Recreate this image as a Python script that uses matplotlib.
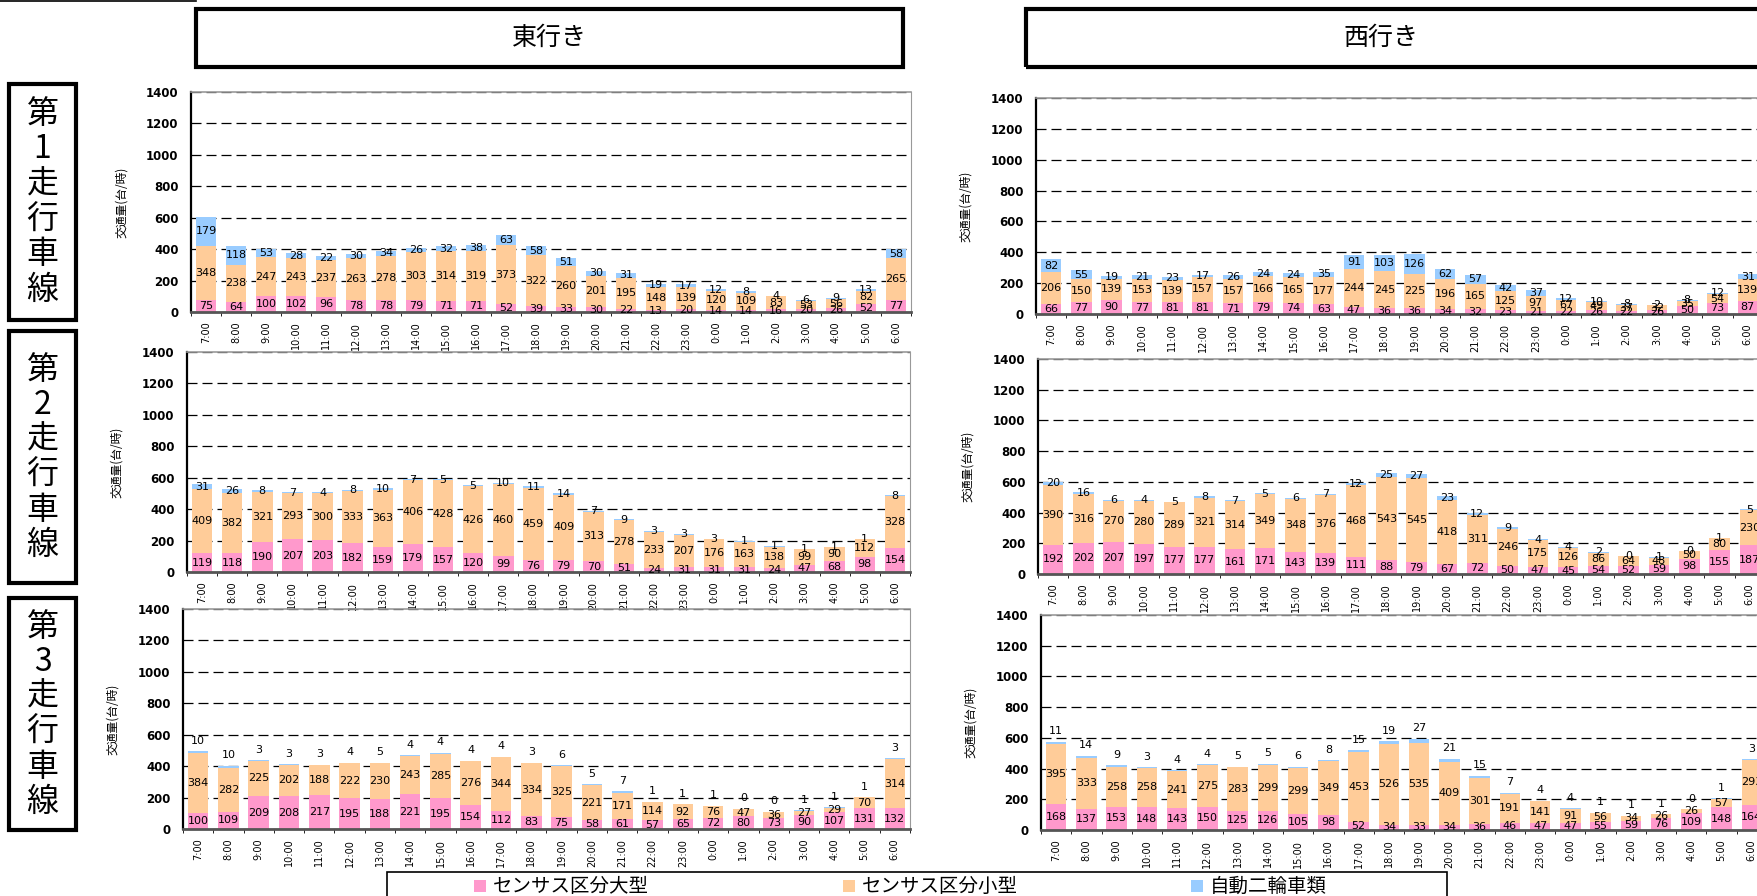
import matplotlib
matplotlib.use("Agg")
import matplotlib.pyplot as plt
from matplotlib.patches import Rectangle
from matplotlib.lines import Line2D
import numpy as np

plt.rcParams['font.family'] = ['Noto Sans CJK JP', 'DejaVu Sans']

hours = ['7:00', '8:00', '9:00', '10:00', '11:00', '12:00', '13:00', '14:00',
         '15:00', '16:00', '17:00', '18:00', '19:00', '20:00', '21:00', '22:00',
         '23:00', '0:00', '1:00', '2:00', '3:00', '4:00', '5:00', '6:00']

series_names = ['センサス区分大型', 'センサス区分小型', '自動二輪車類']

# 東行き 第1走行車線
e1_large = [75, 64, 100, 102, 96, 78, 78, 79, 71, 71, 52, 39, 33, 30, 22, 13, 20, 14, 14, 16, 20, 26, 52, 77]
e1_small = [348, 238, 247, 243, 237, 263, 278, 303, 314, 319, 373, 322, 260, 201, 195, 148, 139, 120, 109, 83, 53, 56, 82, 265]
e1_moto = [179, 118, 53, 28, 22, 30, 34, 26, 32, 38, 63, 58, 51, 30, 31, 19, 17, 12, 8, 4, 6, 9, 13, 58]

# 西行き 第1走行車線
w1_large = [66, 77, 90, 77, 81, 81, 71, 79, 74, 63, 47, 36, 36, 34, 32, 23, 21, 22, 26, 22, 26, 50, 73, 87]
w1_small = [206, 150, 139, 153, 139, 157, 157, 166, 165, 177, 244, 245, 225, 196, 165, 125, 97, 67, 49, 37, 32, 35, 54, 139]
w1_moto = [82, 55, 19, 21, 23, 17, 26, 24, 24, 35, 91, 103, 126, 62, 57, 42, 37, 12, 10, 8, 2, 8, 12, 31]

# 東行き 第2走行車線
e2_large = [119, 118, 190, 207, 203, 182, 159, 179, 157, 120, 99, 76, 79, 70, 51, 24, 31, 31, 31, 24, 47, 68, 98, 154]
e2_small = [409, 382, 321, 293, 300, 333, 363, 406, 428, 426, 460, 459, 409, 313, 278, 233, 207, 176, 163, 138, 99, 90, 112, 328]
e2_moto = [31, 26, 8, 7, 4, 8, 10, 7, 5, 5, 10, 11, 14, 7, 9, 3, 3, 3, 1, 1, 1, 1, 1, 8]

# 西行き 第2走行車線
w2_large = [192, 202, 207, 197, 177, 177, 161, 171, 143, 139, 111, 88, 79, 67, 72, 50, 47, 45, 54, 52, 59, 98, 155, 187]
w2_small = [390, 316, 270, 280, 289, 321, 314, 349, 348, 376, 468, 543, 545, 418, 311, 246, 175, 126, 86, 64, 48, 50, 80, 230]
w2_moto = [20, 16, 6, 4, 5, 8, 7, 5, 6, 7, 12, 25, 27, 23, 12, 9, 4, 4, 2, 0, 1, 0, 1, 5]

# 東行き 第3走行車線
e3_large = [100, 109, 209, 208, 217, 195, 188, 221, 195, 154, 112, 83, 75, 58, 61, 57, 65, 72, 80, 73, 90, 107, 131, 132]
e3_small = [384, 282, 225, 202, 188, 222, 230, 243, 285, 276, 344, 334, 325, 221, 171, 114, 92, 76, 47, 36, 27, 29, 70, 314]
e3_moto = [10, 10, 3, 3, 3, 4, 5, 4, 4, 4, 4, 3, 6, 5, 7, 1, 1, 1, 0, 0, 1, 1, 1, 3]

# 西行き 第3走行車線
w3_large = [168, 137, 153, 148, 143, 150, 125, 126, 105, 98, 52, 34, 33, 34, 36, 46, 47, 47, 55, 59, 76, 109, 148, 164]
w3_small = [395, 333, 258, 258, 241, 275, 283, 299, 299, 349, 453, 526, 535, 409, 301, 191, 141, 91, 56, 34, 26, 26, 57, 293]
w3_moto = [11, 14, 9, 3, 4, 4, 5, 5, 6, 8, 15, 19, 27, 21, 15, 7, 4, 4, 1, 1, 1, 0, 1, 3]

PINK = '#FF99CC'
ORANGE = '#FFCC99'
BLUE = '#99CCFF'

W, H = 1758, 896
NUM_FONT = dict(fontsize=8, family='DejaVu Sans')


def px(x0, y0, x1, y1):
    # pixel box (left, top, right, bottom) -> figure fraction rect
    return [x0 / W, 1 - y1 / H, (x1 - x0) / W, (y1 - y0) / H]


def draw_panel(fig, box, large, small, moto, moto_above=False):
    ax = fig.add_axes(px(*box))
    ax.set_facecolor('none')
    x = np.arange(len(hours))
    large = np.array(large)
    small = np.array(small)
    moto = np.array(moto)
    b1 = ax.bar(x, large, width=0.68, color=PINK, zorder=2)
    b2 = ax.bar(x, small, bottom=large, width=0.68, color=ORANGE, zorder=2)
    b3 = ax.bar(x, moto, bottom=large + small, width=0.68, color=BLUE, zorder=2)
    ax.bar_label(b1, labels=[str(v) for v in large], label_type='center', zorder=3, **NUM_FONT)
    ax.bar_label(b2, labels=[str(v) for v in small], label_type='center', zorder=3, **NUM_FONT)
    moto_labels = [str(v) for v in moto]
    if moto_above:
        ax.bar_label(b3, labels=moto_labels, label_type='edge', padding=4, zorder=3, **NUM_FONT)
    else:
        ax.bar_label(b3, labels=moto_labels, label_type='center', zorder=3, **NUM_FONT)

    ax.set_xlim(-0.5, len(hours) - 0.5)
    ax.set_ylim(0, 1400)
    ax.set_yticks(range(0, 1401, 200))
    ax.set_axisbelow(True)
    ax.yaxis.grid(True, linestyle=(0, (8, 4)), color='black', linewidth=0.9)
    ax.set_xticks(x)
    ax.set_xticklabels(hours, rotation=90, fontsize=7, family='DejaVu Sans')
    ax.set_xticks(np.arange(-0.5, len(hours), 1), minor=True)
    ax.tick_params(axis='x', which='major', length=0, pad=7)
    ax.tick_params(axis='x', which='minor', length=3, color='black')
    ax.tick_params(axis='y', length=0, pad=9)
    for lab in ax.get_yticklabels():
        lab.set_fontweight('bold')
        lab.set_fontsize(8.5)
        lab.set_family('DejaVu Sans')
    ax.set_ylabel('交通量(台/時)', fontsize=8.5)
    ax.yaxis.set_label_coords(-0.088, 0.5)
    ax.spines['left'].set_linewidth(1.6)
    ax.spines['left'].set_color('black')
    ax.spines['bottom'].set_linewidth(2)
    ax.spines['bottom'].set_color('#555555')
    ax.spines['top'].set_color('#999999')
    ax.spines['top'].set_linewidth(1.2)
    ax.spines['right'].set_color('#999999')
    return ax


fig = plt.figure(figsize=(17.58, 8.96), dpi=100)

draw_panel(fig, (191, 92, 911, 312), e1_large, e1_small, e1_moto)
draw_panel(fig, (1036, 98, 1763, 314), w1_large, w1_small, w1_moto)
draw_panel(fig, (187, 352, 910, 572), e2_large, e2_small, e2_moto)
draw_panel(fig, (1038, 359, 1765, 574), w2_large, w2_small, w2_moto)
draw_panel(fig, (183, 609, 910, 829), e3_large, e3_small, e3_moto, moto_above=True)
draw_panel(fig, (1041, 615, 1767, 830), w3_large, w3_small, w3_moto, moto_above=True)

# direction headers
for (x0, x1, tx, title) in [(196, 903, 549, '東行き'), (1026, 1780, 1381, '西行き')]:
    r = px(x0, 9, x1, 67)
    fig.patches.append(Rectangle((r[0], r[1]), r[2], r[3], transform=fig.transFigure,
                                 fill=False, edgecolor='black', linewidth=3))
    fig.text(tx / W, 1 - 38 / H, title, ha='center', va='center', fontsize=18)

fig.lines.append(Line2D([0, 196 / W], [0.999, 0.999], transform=fig.transFigure,
                        color='black', linewidth=1.2))

# lane labels
for (y0, y1, num) in [(84, 320, '1'), (331, 583, '2'), (598, 830, '3')]:
    r = px(9, y0, 76, y1)
    fig.patches.append(Rectangle((r[0], r[1]), r[2], r[3], transform=fig.transFigure,
                                 fill=False, edgecolor='black', linewidth=3))
    label = '\n'.join(['第', num, '走', '行', '車', '線'])
    fig.text(42.5 / W, 1 - (y0 + y1) / 2 / H, label, ha='center', va='center',
             fontsize=23, linespacing=1.12)

# legend box
r = px(387, 872, 1447, 900)
fig.patches.append(Rectangle((r[0], r[1]), r[2], r[3], transform=fig.transFigure,
                             fill=False, edgecolor='black', linewidth=1.2))
for (sx, color, name) in [(474, PINK, series_names[0]), (843, ORANGE, series_names[1]),
                          (1191, BLUE, series_names[2])]:
    q = px(sx, 880, sx + 12, 892)
    fig.patches.append(Rectangle((q[0], q[1]), q[2], q[3], transform=fig.transFigure,
                                 facecolor=color, edgecolor='none'))
    fig.text((sx + 19) / W, 1 - 886 / H, name, ha='left', va='center', fontsize=14)

fig.savefig('out.png', dpi=100)
